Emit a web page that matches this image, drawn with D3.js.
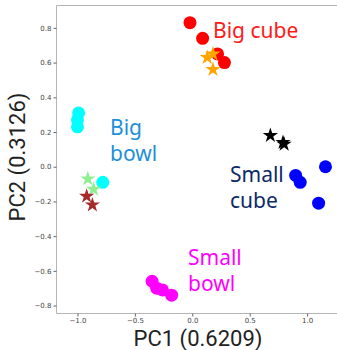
<!DOCTYPE html>
<html lang="en">
<head>
<meta charset="UTF-8" />
<script src="https://d3js.org/d3.v7.min.js"></script>
<style>
  body { margin: 0; background: #fff; }
  svg { display: block; }
</style>
</head>
<body>
<svg width="337" height="350"></svg>
<script>
// PCA scores
var bigCube    = [[-0.02, 0.83], [0.09, 0.74], [0.22, 0.65], [0.28, 0.60]];
var bigCubeS   = [[0.13, 0.63], [0.18, 0.65], [0.18, 0.56]];
var bigBowl    = [[-0.99, 0.31], [-1.0, 0.27], [-1.0, 0.23], [-0.78, -0.09]];
var bigBowlS   = [[-0.91, -0.07], [-0.86, -0.13]];
var brownS     = [[-0.92, -0.17], [-0.87, -0.22]];
var smallBowl  = [[-0.35, -0.66], [-0.31, -0.70], [-0.26, -0.71], [-0.18, -0.74]];
var smallCubeS = [[0.68, 0.18], [0.79, 0.14], [0.80, 0.13]];
var smallCube  = [[0.90, -0.05], [0.94, -0.09], [1.16, 0.0], [1.10, -0.21]];

var xTicks = [-1.0, -0.5, 0.0, 0.5, 1.0];
var yTicks = [-0.8, -0.6, -0.4, -0.2, 0.0, 0.2, 0.4, 0.6, 0.8];

var svg = d3.select("svg");

var x = d3.scaleLinear().domain([-1.187, 1.33]).range([56, 345]);
var y = d3.scaleLinear().domain([-0.843, 0.932]).range([313, 5]);

// frame (right side runs off the picture)
svg.append("path")
  .attr("d", "M345,5.5H56.5V313.5H345")
  .attr("fill", "none")
  .attr("stroke", "#b5b5b5")
  .attr("stroke-width", 1);

var fmt = function(d) { return d3.format(".1f")(d).replace("-", "\u2212"); };

// axes
var gx = svg.append("g").attr("transform", "translate(0,313.5)")
  .call(d3.axisBottom(x).tickValues(xTicks).tickFormat(fmt).tickSize(3).tickSizeOuter(0));
var gy = svg.append("g").attr("transform", "translate(56.5,0)")
  .call(d3.axisLeft(y).tickValues(yTicks).tickFormat(fmt).tickSize(3).tickSizeOuter(0));
[gx, gy].forEach(function(g) {
  g.select(".domain").remove();
  g.selectAll("line").attr("stroke", "#666");
  g.selectAll("text").attr("fill", "#444").style("font-family", "DejaVu Sans").style("font-size", "7px");
});
gx.selectAll("text").attr("y", 5);
gy.selectAll("text").attr("x", -5);

function dots(data, color) {
  svg.append("g").selectAll("circle").data(data).enter().append("circle")
    .attr("cx", function(d) { return x(d[0]); })
    .attr("cy", function(d) { return y(d[1]); })
    .attr("r", 6.5)
    .attr("fill", color);
}
var star = d3.symbol().type(d3.symbolStar).size(72);
function stars(data, color) {
  svg.append("g").selectAll("path").data(data).enter().append("path")
    .attr("d", star)
    .attr("transform", function(d) { return "translate(" + x(d[0]) + "," + y(d[1]) + ")"; })
    .attr("fill", color);
}

dots(bigCube, "#ff0000");
stars(bigCubeS, "#ffa500");
dots(bigBowl, "#00ffff");
stars(bigBowlS, "#90ee90");
stars(brownS, "#a52a2a");
dots(smallBowl, "#ff00ff");
stars(smallCubeS, "#000000");
dots(smallCube, "#0000ff");

// group labels
var labels = [
  { lines: ["Big cube"], x: 213, y: 38, color: "#ff1a1a" },
  { lines: ["Big", "bowl"], x: 110, y: 135, color: "#1e8fd8" },
  { lines: ["Small", "cube"], x: 230, y: 182, color: "#0c2a68" },
  { lines: ["Small", "bowl"], x: 188, y: 265, color: "#ff00ff" }
];
labels.forEach(function(l) {
  var t = svg.append("text")
    .attr("x", l.x).attr("y", l.y)
    .attr("fill", l.color)
    .style("font-family", "Noto Sans")
    .style("font-size", "21px");
  l.lines.forEach(function(s, i) {
    t.append("tspan").attr("x", l.x).attr("dy", i ? 26 : 0).text(s);
  });
});

// axis titles
svg.append("text")
  .attr("x", 198).attr("y", 346)
  .attr("text-anchor", "middle")
  .attr("fill", "#222")
  .style("font-family", "Roboto")
  .style("font-size", "22px")
  .text("PC1 (0.6209)");
svg.append("text")
  .attr("transform", "translate(25,157) rotate(-90)")
  .attr("text-anchor", "middle")
  .attr("fill", "#222")
  .style("font-family", "Roboto")
  .style("font-size", "22px")
  .text("PC2 (0.3126)");
</script>
</body>
</html>
